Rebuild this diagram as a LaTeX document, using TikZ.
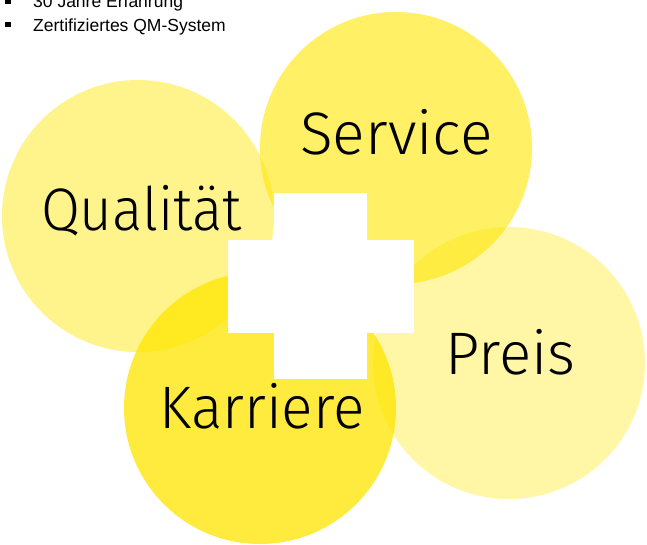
\documentclass[tikz,border=0pt]{standalone}
\usepackage{fontspec}
\setmainfont{Liberation Sans}
\IfFontExistsTF{Fira Sans Light}{\newfontfamily\lightfont{Fira Sans Light}}{%
 \IfFontExistsTF{Lato Light}{\newfontfamily\lightfont{Lato Light}}{%
  \IfFontExistsTF{Open Sans Light}{\newfontfamily\lightfont{Open Sans Light}}{%
   \IfFontExistsTF{DejaVu Sans ExtraLight}{\newfontfamily\lightfont{DejaVu Sans ExtraLight}}{%
    \newfontfamily\lightfont{Liberation Sans}}}}}
\begin{document}
\begin{tikzpicture}[x=1pt,y=-1pt,
  blob/.style={circle,inner sep=0pt,minimum size=272pt,fill=ylw,fill opacity=#1,draw=none},
  big/.style={anchor=base,inner sep=0pt,font=\lightfont\fontsize{60}{60}\selectfont},
  small/.style={anchor=base west,inner sep=0pt,font=\fontsize{17.5}{17.5}\selectfont}]
\definecolor{ylw}{HTML}{FFE600}
\clip (0,0) rectangle (647,544);
\useasboundingbox (0,0) rectangle (647,544);
\fill[white] (0,0) rectangle (647,544);
% circles
\node[blob=0.45] (cq) at (138,216) {};
\node[blob=0.6]  (cs) at (396,148) {};
\node[blob=0.35] (cp) at (509,363) {};
\node[blob=0.76] (ck) at (260,408) {};
% cross
\fill[white] (274,193) rectangle (367,379);
\fill[white] (228,240) rectangle (414,333);
% labels
\node[big] (tq) at (141.5,230) {\scalebox{0.94}[1]{Qualität}};
\node[big] (ts) at (396.5,154) {\scalebox{1.01}[1]{Service}};
\node[big] (tp) at (510.5,374) {Preis};
\node[big] (tk) at (262,428) {\scalebox{0.975}[1]{Karriere}};
% bullets
\fill (5,-1) rectangle (11,4);
\fill (5,22) rectangle (11,27);
\node[small] (b1) at (33,7) {30 Jahre Erfahrung};
\node[small] (b2) at (33,31) {Zertifiziertes QM-System};
\end{tikzpicture}
\end{document}
